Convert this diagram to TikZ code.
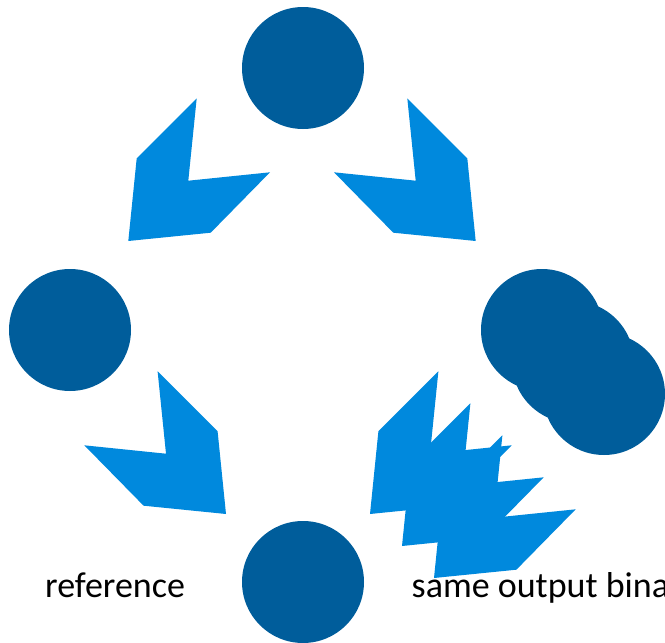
\documentclass[tikz,border=0pt]{standalone}
\usepackage{fontspec}
\setmainfont{Carlito}
\definecolor{discblue}{RGB}{0,93,155}
\definecolor{chevblue}{RGB}{0,137,221}
\tikzset{
  disc/.style={circle, fill=discblue, draw=none, minimum size=122pt, inner sep=0pt},
  caption/.style={anchor=base west, inner sep=0pt, font=\fontsize{36pt}{40pt}\selectfont},
  chevron/.pic={
    \fill[chevblue] (0,0) -- (82.4,-8.3) -- (141.7,-68.7) -- (60,-60.3)
      -- (68.4,-142.7) -- (8.4,-82.7) -- cycle;
  }
}
\begin{document}
\begin{tikzpicture}[x=1pt, y=-1pt]
  \useasboundingbox (0,0) rectangle (665,643);
  \clip (0,0) rectangle (665,643);

  % chevrons between the discs
  \pic at (128.3,241) {chevron};
  \pic[xscale=-1] at (475.7,241) {chevron};
  \pic[xscale=-1] at (226,514) {chevron};
  \pic at (370,514) {chevron};
  \pic at (402,546) {chevron};
  \pic at (434,578) {chevron};

  % discs
  \node[disc] (top) at (303,68) {};
  \node[disc] (left) at (70,330) {};
  \node[disc] (right1) at (542,330) {};
  \node[disc] (right2) at (573,362) {};
  \node[disc] (right3) at (604,394) {};
  \node[disc] (bottom) at (303,582) {};

  % captions
  \node[caption] (ref) at (45,597) {reference};
  \node[caption] (same) at (411.5,597) {same output binary};
\end{tikzpicture}
\end{document}
